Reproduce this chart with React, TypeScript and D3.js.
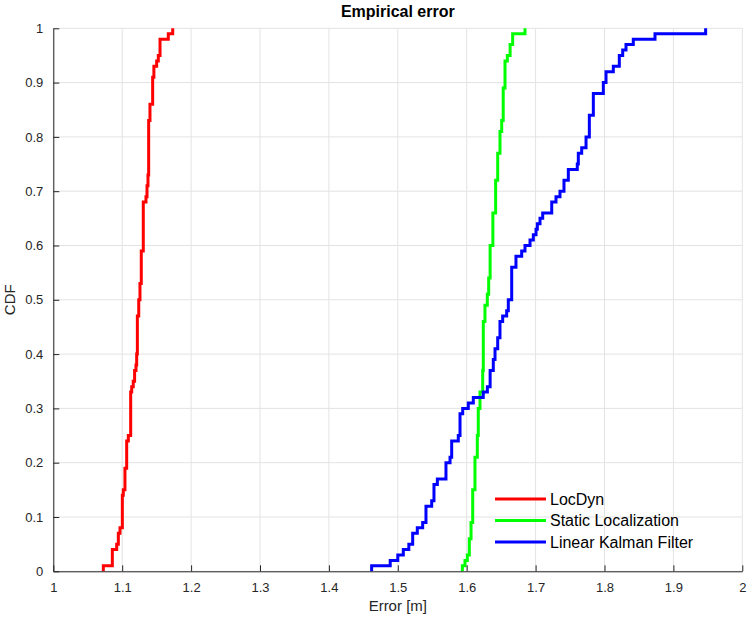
import React, { useRef, useEffect } from 'react';
import * as d3 from 'd3';

// empirical CDF breakpoints: at each x the curve jumps to the matching y
const locDynX = [1.0726, 1.0726, 1.0857, 1.092, 1.0944, 1.0968, 1.1002, 1.1016, 1.104, 1.1065, 1.1089, 1.1123, 1.1138, 1.116, 1.118, 1.12, 1.121, 1.122, 1.124, 1.1258, 1.1277, 1.1306, 1.1345, 1.136, 1.1374, 1.1384, 1.1403, 1.1442, 1.146, 1.15, 1.1524, 1.1549, 1.1669, 1.1733];
const locDynY = [0, 0.01, 0.04, 0.05, 0.07, 0.08, 0.14, 0.15, 0.19, 0.24, 0.25, 0.33, 0.34, 0.35, 0.37, 0.38, 0.40, 0.47, 0.50, 0.53, 0.59, 0.68, 0.69, 0.71, 0.73, 0.83, 0.86, 0.91, 0.93, 0.94, 0.95, 0.98, 0.99, 1.0];

const staticX = [1.5937, 1.5937, 1.5975, 1.6009, 1.6038, 1.6063, 1.6087, 1.612, 1.6154, 1.6168, 1.6193, 1.6232, 1.6241, 1.6265, 1.6299, 1.6319, 1.634, 1.638, 1.642, 1.645, 1.6483, 1.6508, 1.653, 1.6556, 1.659, 1.663, 1.6667, 1.6846];
const staticY = [0, 0.01, 0.02, 0.03, 0.06, 0.09, 0.15, 0.21, 0.25, 0.30, 0.33, 0.37, 0.46, 0.49, 0.51, 0.54, 0.60, 0.66, 0.72, 0.77, 0.81, 0.83, 0.89, 0.94, 0.95, 0.97, 0.99, 1.0];

const kalmanX = [1.462, 1.462, 1.489, 1.5, 1.508, 1.516, 1.5216, 1.5283, 1.5361, 1.5409, 1.5492, 1.5525, 1.5574, 1.5699, 1.5758, 1.5782, 1.5878, 1.5903, 1.5942, 1.6023, 1.6096, 1.624, 1.630, 1.634, 1.6386, 1.6411, 1.645, 1.6483, 1.6522, 1.658, 1.6604, 1.6653, 1.6715, 1.6798, 1.6846, 1.6919, 1.6967, 1.7006, 1.7025, 1.7064, 1.7103, 1.7234, 1.7296, 1.7354, 1.7412, 1.7475, 1.7605, 1.762, 1.7669, 1.7732, 1.778, 1.7838, 1.7983, 1.8022, 1.8128, 1.8215, 1.8264, 1.8312, 1.8418, 1.8733, 1.9468];
const kalmanY = [0, 0.01, 0.02, 0.03, 0.04, 0.05, 0.07, 0.08, 0.09, 0.12, 0.13, 0.16, 0.17, 0.20, 0.21, 0.24, 0.25, 0.29, 0.30, 0.31, 0.32, 0.33, 0.34, 0.37, 0.39, 0.41, 0.43, 0.46, 0.47, 0.48, 0.50, 0.56, 0.58, 0.59, 0.60, 0.61, 0.62, 0.63, 0.64, 0.65, 0.66, 0.68, 0.69, 0.70, 0.72, 0.74, 0.75, 0.77, 0.78, 0.80, 0.84, 0.88, 0.90, 0.92, 0.93, 0.95, 0.96, 0.97, 0.98, 0.99, 1.0];

const seriesNames = ['LocDyn', 'Static Localization', 'Linear Kalman Filter'];
const seriesColors = ['#ff0000', '#00ff00', '#0000ff'];

const xTicks = [1, 1.1, 1.2, 1.3, 1.4, 1.5, 1.6, 1.7, 1.8, 1.9, 2];
const yTicks = [0, 0.1, 0.2, 0.3, 0.4, 0.5, 0.6, 0.7, 0.8, 0.9, 1];

const font = "'Liberation Sans', Arial, Helvetica, sans-serif";

const App = () => {
  const svgRef = useRef(null);

  useEffect(() => {
    const svg = d3.select(svgRef.current);
    svg.selectAll('*').remove();

    const width = 747;
    const height = 621;
    const margin = { top: 28.3, bottom: 49.7, left: 53.3, right: 4.7 };
    const chartWidth = width - margin.left - margin.right;
    const chartHeight = height - margin.top - margin.bottom;

    const xScale = d3.scaleLinear().domain([1, 2]).range([0, chartWidth]);
    const yScale = d3.scaleLinear().domain([0, 1]).range([chartHeight, 0]);

    const chart = svg.append('g').attr('transform', `translate(${margin.left},${margin.top})`);

    // grid
    chart.append('g').selectAll('line').data(xTicks).enter().append('line')
      .attr('x1', d => xScale(d)).attr('x2', d => xScale(d))
      .attr('y1', 0).attr('y2', chartHeight)
      .style('stroke', '#e3e3e3').style('stroke-width', 1);
    chart.append('g').selectAll('line').data(yTicks).enter().append('line')
      .attr('x1', 0).attr('x2', chartWidth)
      .attr('y1', d => yScale(d)).attr('y2', d => yScale(d))
      .style('stroke', '#e3e3e3').style('stroke-width', 1);

    // curves
    const series = [
      locDynX.map((x, i) => [x, locDynY[i]]),
      staticX.map((x, i) => [x, staticY[i]]),
      kalmanX.map((x, i) => [x, kalmanY[i]]),
    ];
    const line = d3.line()
      .x(d => xScale(d[0]))
      .y(d => yScale(d[1]))
      .curve(d3.curveStepAfter);
    chart.selectAll('.curve').data(series).enter().append('path')
      .attr('class', 'curve')
      .attr('d', d => line(d))
      .style('fill', 'none')
      .style('stroke', (d, i) => seriesColors[i])
      .style('stroke-width', 3)
      .style('stroke-linejoin', 'miter');

    // axes
    const xAxis = d3.axisBottom(xScale).tickValues(xTicks).tickSizeInner(-6).tickSizeOuter(0).tickPadding(11)
      .tickFormat(d => String(d));
    const yAxis = d3.axisLeft(yScale).tickValues(yTicks).tickSizeInner(-6).tickSizeOuter(0).tickPadding(10)
      .tickFormat(d => String(d));

    chart.append('g').attr('transform', `translate(0,${chartHeight})`).call(xAxis);
    chart.append('g').call(yAxis);

    chart.selectAll('.domain').style('stroke', '#262626').style('stroke-width', 1);
    chart.selectAll('.tick line').style('stroke', '#262626');
    chart.selectAll('.tick text')
      .style('fill', '#262626').style('font-size', '13px').style('font-family', font);

    // labels
    svg.append('text')
      .attr('x', margin.left + chartWidth / 2).attr('y', 17)
      .attr('text-anchor', 'middle')
      .style('font-family', font).style('font-size', '16px').style('font-weight', 'bold')
      .style('fill', '#000')
      .text('Empirical error');

    svg.append('text')
      .attr('x', margin.left + chartWidth / 2).attr('y', 611)
      .attr('text-anchor', 'middle')
      .style('font-family', font).style('font-size', '15px')
      .style('fill', '#262626')
      .text('Error [m]');

    svg.append('text')
      .attr('transform', `translate(15,${margin.top + chartHeight / 2}) rotate(-90)`)
      .attr('text-anchor', 'middle')
      .style('font-family', font).style('font-size', '15px')
      .style('fill', '#262626')
      .text('CDF');

    // legend
    const legend = svg.append('g').attr('transform', 'translate(495,499)');
    const rows = legend.selectAll('g').data(seriesNames).enter().append('g')
      .attr('transform', (d, i) => `translate(0,${i * 21.5})`);
    rows.append('line')
      .attr('x1', 0).attr('x2', 51).attr('y1', 0).attr('y2', 0)
      .style('stroke', (d, i) => seriesColors[i]).style('stroke-width', 3);
    rows.append('text')
      .attr('x', 55).attr('y', 0).attr('dy', '0.35em')
      .style('font-family', font).style('font-size', '16px').style('fill', '#000')
      .text(d => d);
  }, []);

  return (
    <svg ref={svgRef} width={747} height={621}
      style={{ position: 'absolute', left: 0, top: 0, background: '#fff' }} />
  );
};

export default App;
